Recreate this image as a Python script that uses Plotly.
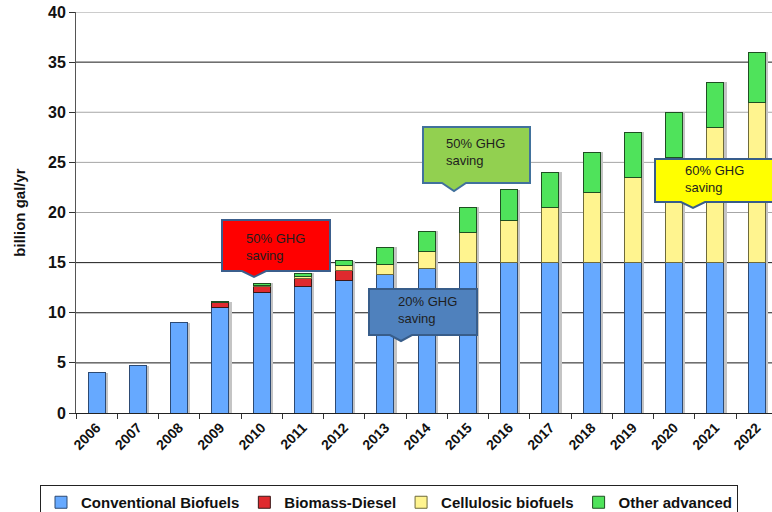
import plotly.graph_objects as go

# Renewable fuel volumes by year (billion gallons per year)
years = ["2006", "2007", "2008", "2009", "2010", "2011", "2012", "2013", "2014",
         "2015", "2016", "2017", "2018", "2019", "2020", "2021", "2022"]
conventional = [4.0, 4.7, 9.0, 10.5, 12.0, 12.6, 13.2, 13.8, 14.4,
                15.0, 15.0, 15.0, 15.0, 15.0, 15.0, 15.0, 15.0]
biomass_diesel = [0, 0, 0, 0.5, 0.65, 0.8, 1.0, 0, 0,
                  0, 0, 0, 0, 0, 0, 0, 0]
cellulosic = [0, 0, 0, 0, 0.1, 0.25, 0.5, 1.0, 1.75,
              3.0, 4.25, 5.5, 7.0, 8.5, 10.5, 13.5, 16.0]
other_advanced = [0, 0, 0, 0.1, 0.2, 0.3, 0.5, 1.75, 2.0,
                  2.5, 3.0, 3.5, 4.0, 4.5, 4.5, 4.5, 5.0]

series = [
    ("Conventional Biofuels", conventional, "#66A9FF", "#2D4A73"),
    ("Biomass-Diesel", biomass_diesel, "#DF2A2E", "#3A1818"),
    ("Cellulosic biofuels", cellulosic, "#FFF48F", "#6E6A3A"),
    ("Other advanced", other_advanced, "#4FE35B", "#1F4F22"),
]

totals = [sum(v) for v in zip(conventional, biomass_diesel, cellulosic, other_advanced)]

W, H = 772, 512
L, R, T, B = 76, 0, 12, 99
plot_w = W - L - R
plot_h = H - T - B
cat_px = 41.25  # width of one category slot
x_range = [-0.5, -0.5 + plot_w / cat_px]
BAR_W = 0.41

FONT = "Liberation Sans, Arial, sans-serif"

fig = go.Figure()

# soft drop shadow behind each stacked column
fig.add_trace(go.Bar(
    x=years, y=totals, width=BAR_W, offset=-BAR_W / 2 + 0.07,
    marker=dict(color="#C4C4C4", line=dict(width=0)),
    showlegend=False, hoverinfo="skip", xaxis="x", yaxis="y",
))

for name, vals, fill, edge in series:
    fig.add_trace(go.Bar(
        name=name, x=years, y=[v if v else None for v in vals],
        width=BAR_W,
        marker=dict(color=fill, line=dict(color=edge, width=1)),
        xaxis="x2", yaxis="y",
    ))


def px_x(p):
    return (p - L) / plot_w


def px_y(p):
    return (H - B - p) / plot_h


def callout(left, right, top, bottom, tip_x, tip_y, half_base, fill, edge):
    pts = [(left, top), (right, top), (right, bottom),
           (tip_x + half_base, bottom), (tip_x, tip_y),
           (tip_x - half_base, bottom), (left, bottom)]
    path = "M " + " L ".join(f"{px_x(a):.5f},{px_y(b):.5f}" for a, b in pts) + " Z"
    fig.add_shape(type="path", path=path, xref="paper", yref="paper",
                  fillcolor=fill, line=dict(color=edge, width=2), layer="above")


# GHG-saving callouts
callouts = [
    ((222, 330, 220, 271, 254, 277, 12, "#FF0000", "#3B5E8C"), "50% GHG<br>saving", (244, 229)),
    ((369, 477, 289, 335, 401, 341, 11, "#4F81BD", "#385D8A"), "20% GHG<br>saving", (396, 292)),
    ((423, 530, 127, 183, 454, 191, 12, "#92D050", "#41719C"), "50% GHG<br>saving", (444, 134)),
    ((655, 790, 159, 202, 693, 208, 12, "#FFFF00", "#385D8A"), "60% GHG<br>saving", (683, 161)),
]
for geom, text, (tx, ty) in callouts:
    callout(*geom)
    fig.add_annotation(
        text=text, xref="paper", yref="paper", x=px_x(tx), y=px_y(ty),
        xanchor="left", yanchor="top", align="left", showarrow=False,
        font=dict(family=FONT, size=13, color="#1E1E1E"),
    )

# horizontal gridlines
grid_levels = [5, 10, 15, 20, 25, 30, 35, 40]
grid_colors = ["#1A1A1A", "#1A1A1A", "#1A1A1A", "#A6A6A6", "#A6A6A6", "#A6A6A6", "#1A1A1A", "#9A9A9A"]
for lvl, col in zip(grid_levels, grid_colors):
    fig.add_shape(type="line", xref="paper", yref="y", x0=0, x1=1, y0=lvl, y1=lvl,
                  line=dict(color=col, width=1), layer="below")

fig.update_layout(
    width=W, height=H,
    margin=dict(l=L, r=R, t=T, b=B, autoexpand=False),
    paper_bgcolor="white", plot_bgcolor="white",
    barmode="stack",
    font=dict(family=FONT, color="#111111"),
    showlegend=True,
    legend=dict(
        orientation="h", traceorder="normal",
        x=px_x(389), xanchor="center", y=px_y(485), yanchor="top",
        bordercolor="#222222", borderwidth=1, bgcolor="white",
        font=dict(family=FONT, size=15, color="#111111", weight="bold"),
        itemwidth=30, tracegroupgap=0,
    ),
    xaxis=dict(
        type="category", range=x_range, tickson="boundaries",
        showline=True, linecolor="#222222", linewidth=1,
        ticks="outside", ticklen=5, tickcolor="#333333",
        tickangle=-45, showgrid=False, zeroline=False, automargin=False,
        tickfont=dict(family=FONT, size=14, color="#111111", weight="bold"),
    ),
    xaxis2=dict(
        type="category", range=x_range, overlaying="x", visible=False,
        showgrid=False, zeroline=False,
    ),
    yaxis=dict(
        range=[0, 40], dtick=5, showgrid=False, zeroline=False,
        showline=True, linecolor="#555555", linewidth=1, automargin=False,
        ticks="outside", ticklen=6, tickcolor="#333333",
        tickfont=dict(family=FONT, size=16, color="#111111", weight="bold"),
        title=dict(text="billion gal/yr", standoff=18,
                   font=dict(family=FONT, size=15, color="#111111", weight="bold")),
    ),
)

fig.write_html("out.html")
